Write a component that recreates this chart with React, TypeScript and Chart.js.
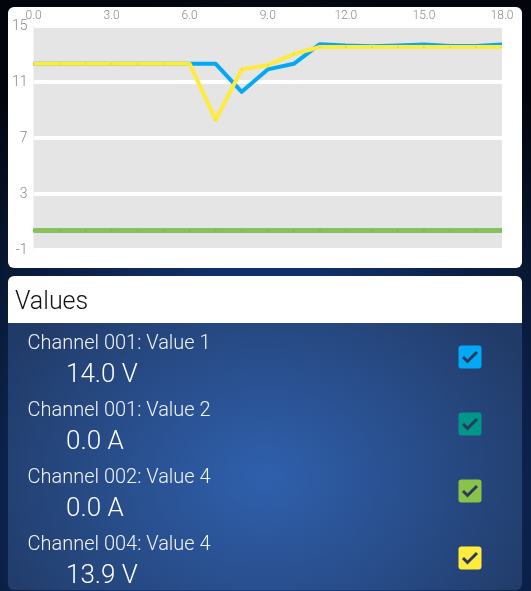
import React, { useEffect, useRef } from "react";
import { Chart, registerables } from "chart.js";

Chart.register(...registerables);

// ---- data ----
const xValues = [0, 1, 2, 3, 4, 5, 6, 7, 8, 9, 10, 11, 12, 13, 14, 15, 16, 17, 18];
const ch001Value1 = [12.3, 12.3, 12.3, 12.3, 12.3, 12.3, 12.3, 12.3, 10.3, 11.9, 12.3, 13.7, 13.6, 13.55, 13.6, 13.68, 13.58, 13.58, 13.68];
const ch001Value2 = [0.4, 0.4, 0.4, 0.4, 0.4, 0.4, 0.4, 0.4, 0.4, 0.4, 0.4, 0.4, 0.4, 0.4, 0.4, 0.4, 0.4, 0.4, 0.4];
const ch002Value4 = [0.4, 0.4, 0.4, 0.4, 0.4, 0.4, 0.4, 0.4, 0.4, 0.4, 0.4, 0.4, 0.4, 0.4, 0.4, 0.4, 0.4, 0.4, 0.4];
const ch004Value4 = [12.3, 12.3, 12.3, 12.3, 12.3, 12.3, 12.3, 8.3, 11.9, 12.2, 13.0, 13.5, 13.5, 13.5, 13.5, 13.5, 13.5, 13.5, 13.5];
const xTicks = [0, 3, 6, 9, 12, 15, 18];
const yTicks = [-1, 3, 7, 11, 15];

const channelNames = ["Channel 001: Value 1", "Channel 001: Value 2", "Channel 002: Value 4", "Channel 004: Value 4"];
const channelReadings = ["14.0 V", "0.0 A", "0.0 A", "13.9 V"];
const channelColors = ["#03a9f4", "#009688", "#8bc34a", "#ffeb3b"];
const pointColors = ["#2e9fd8", "#1f8a80", "#7fb345", "#e6da45"];

const FONT = "Roboto, 'Noto Sans', sans-serif";

const plotBg = {
  id: "plotBg",
  beforeDraw(chart: any) {
    const { ctx, chartArea: a } = chart;
    if (!a) return;
    ctx.save();
    ctx.fillStyle = "#e5e5e5";
    ctx.fillRect(a.left, a.top, a.right - a.left, a.bottom - a.top);
    ctx.restore();
  },
};

function toPoints(values: number[]) {
  return values.map((v, i) => ({ x: xValues[i], y: v }));
}

function ChartCard() {
  const ref = useRef<HTMLCanvasElement | null>(null);
  useEffect(() => {
    if (!ref.current) return;
    const series = [ch001Value1, ch001Value2, ch002Value4, ch004Value4];
    const orders = [1, 3, 2, 0];
    const chart = new Chart(ref.current, {
      type: "line",
      data: {
        datasets: series.map((s, i) => ({
          label: channelNames[i],
          data: toPoints(s),
          borderColor: channelColors[i],
          backgroundColor: channelColors[i],
          borderWidth: 4,
          borderCapStyle: "round",
          borderJoinStyle: "round",
          pointRadius: 1,
          pointBorderWidth: 0,
          pointBackgroundColor: pointColors[i],
          tension: 0,
          fill: false,
          order: orders[i],
        })),
      } as any,
      options: {
        animation: false,
        responsive: false,
        maintainAspectRatio: false,
        devicePixelRatio: 1,
        layout: { padding: { left: 0, right: 20, top: 0, bottom: 18 } },
        plugins: { legend: { display: false }, tooltip: { enabled: false } },
        scales: {
          x: {
            type: "linear",
            position: "top",
            min: 0,
            max: 18,
            grid: { display: false, drawTicks: false },
            border: { display: false },
            ticks: {
              color: "#8a8a8a",
              font: { family: FONT, size: 12, weight: "300" },
              padding: 3,
              maxRotation: 0,
              callback: (v: any) => Number(v).toFixed(1),
            },
            afterBuildTicks: (s: any) => {
              s.ticks = xTicks.map((v) => ({ value: v }));
            },
            afterFit: (s: any) => {
              s.height = 19;
            },
          },
          y: {
            type: "linear",
            min: -1,
            max: 15,
            grid: { color: "#ffffff", lineWidth: 4, drawTicks: false },
            border: { display: false },
            ticks: {
              color: "#8a8a8a",
              font: { family: FONT, size: 14, weight: "300" },
              padding: 6,
            },
            afterBuildTicks: (s: any) => {
              s.ticks = yTicks.map((v) => ({ value: v }));
            },
            afterFit: (s: any) => {
              s.width = 25.5;
            },
          },
        },
      } as any,
      plugins: [plotBg],
    });
    return () => chart.destroy();
  }, []);
  return (
    <div
      style={{
        position: "absolute",
        left: 8,
        top: 7,
        width: 514,
        height: 261,
        background: "#ffffff",
        borderRadius: 6,
        overflow: "hidden",
      }}
    >
      <canvas ref={ref} width={514} height={261} style={{ width: 514, height: 261, display: "block" }} />
    </div>
  );
}

function CheckBox({ color, top }: { color: string; top: number }) {
  return (
    <svg width={24} height={24} style={{ position: "absolute", left: 458, top }}>
      <rect x={0.5} y={0.5} width={23} height={23} rx={3} fill={color} />
      <polyline points="5,12 9.5,16.5 19,7" fill="none" stroke="#2a3a5e" strokeWidth={3} />
    </svg>
  );
}

export default function App() {
  return (
    <div
      style={{
        position: "fixed",
        left: 0,
        top: 0,
        width: 531,
        height: 591,
        overflow: "hidden",
        fontFamily: FONT,
        background:
          "radial-gradient(ellipse 420px 520px at 50% 85%, #1b4690 0%, #11306a 45%, #0a1c3e 70%, #02050b 100%)",
      }}
    >
      <ChartCard />
      <div
        style={{
          position: "absolute",
          left: 8,
          top: 276,
          width: 514,
          height: 47,
          background: "#ffffff",
          borderRadius: "6px 6px 0 0",
        }}
      >
        <div
          style={{
            position: "absolute",
            left: 7,
            top: 0,
            height: 47,
            lineHeight: "50px",
            fontSize: 25,
            fontWeight: 300,
            color: "#111",
          }}
        >
          Values
        </div>
      </div>
      <div
        style={{
          position: "absolute",
          left: 8,
          top: 323,
          width: 514,
          height: 267,
          borderRadius: "0 0 6px 6px",
          background: "radial-gradient(ellipse 300px 240px at 50% 58%, #2f60ad 0%, #284c88 55%, #213b68 100%)",
        }}
      />
      {channelNames.map((name, i) => (
        <React.Fragment key={name}>
          <div
            style={{
              position: "absolute",
              left: 27.5,
              top: 332 + i * 67,
              fontSize: 20,
              lineHeight: "20px",
              fontWeight: 300,
              color: "#f2f4f8",
              whiteSpace: "nowrap",
            }}
          >
            {name}
          </div>
          <div
            style={{
              position: "absolute",
              left: 66,
              top: 359.5 + i * 67,
              fontSize: 26,
              lineHeight: "26px",
              fontWeight: 300,
              color: "#ffffff",
              whiteSpace: "nowrap",
            }}
          >
            {channelReadings[i]}
          </div>
          <CheckBox color={channelColors[i]} top={345 + i * 67} />
        </React.Fragment>
      ))}
    </div>
  );
}
